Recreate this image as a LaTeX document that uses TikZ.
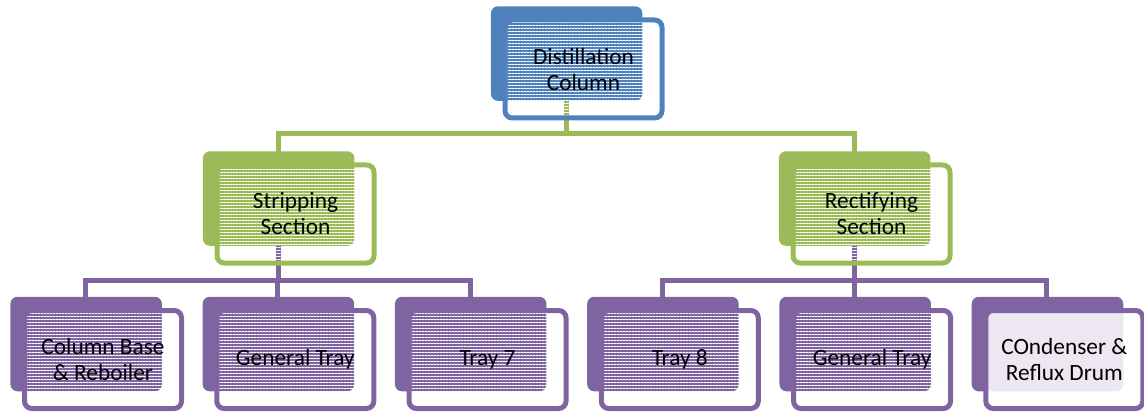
\documentclass[tikz,border=0pt]{standalone}
\usepackage{fontspec}
\setmainfont{Carlito}
\usetikzlibrary{positioning,backgrounds,shadows,patterns.meta}
\definecolor{SAblue}{RGB}{79,129,189}
\definecolor{SAgreen}{RGB}{155,187,89}
\definecolor{SApurple}{RGB}{128,100,162}
\tikzset{
    % two-layer card: filled back card (shadow) + outlined front card
    card/.style={
        rectangle, rounded corners=5.5pt, draw=#1, line width=3.75pt,
        minimum width=117.75pt, minimum height=73.5pt, inner sep=2pt,
        align=center, font=\fontsize{17.5pt}{19.5pt}\selectfont,
        general shadow={fill=#1, fill opacity=1, shadow xshift=-13.1pt,
                        shadow yshift=12pt, shadow scale=0.965}
    },
    % striped see-through front
    hatched/.style={pattern={Lines[distance=2.25pt,line width=0.75pt]},
                    pattern color=white},
    % colour variants
    topcard/.style={card=SAblue, hatched},
    seccard/.style={card=SAgreen, hatched},
    traycard/.style={card=SApurple, hatched},
    link/.style={draw=#1, line width=3.75pt},
}
\begin{document}
\begin{tikzpicture}[x=0.75pt,y=-0.75pt]
  \useasboundingbox (0,0) rectangle (1144,413);
  \node[topcard] (column) at (583.5,69) {Distillation\\Column};
  \node[seccard] (strip) at (295.5,214) {Stripping\\Section};
  \node[seccard] (rectif) at (871.5,214) {Rectifying\\Section};
  \node[traycard] (base) at (103,359.5) {Column Base\\\& Reboiler};
  \node[traycard,right=22.7pt of base] (gtrayl) {General Tray};
  \node[traycard,right=22.7pt of gtrayl] (tray7) {Tray 7};
  \node[traycard,right=22.7pt of tray7] (tray8) {Tray 8};
  \node[traycard,right=22.7pt of tray8] (gtrayr) {General Tray};
  \node[card=SApurple,fill=white,fill opacity=0.85,text opacity=1,
        right=22.7pt of gtrayr] (cond) {COndenser \&\\Reflux Drum};
  \begin{scope}[on background layer]
    \coordinate (gbar) at (0,134);
    \coordinate (pbar) at (0,280);
    % green level
    \draw[link=SAgreen] ([xshift=-13.1pt]column.center)
      -- ([xshift=-13.1pt]column.center |- gbar);
    \draw[link=SAgreen] ([xshift=-13.1pt]strip.center)
      |- ([xshift=-13.1pt]column.center |- gbar)
      -| ([xshift=-13.1pt]rectif.center);
    % purple level
    \draw[link=SApurple] ([xshift=-13.1pt]strip.center)
      -- ([xshift=-13.1pt]strip.center |- pbar);
    \draw[link=SApurple] ([xshift=-13.1pt]base.center)
      |- ([xshift=-13.1pt]strip.center |- pbar)
      -| ([xshift=-13.1pt]tray7.center);
    \draw[link=SApurple] ([xshift=-13.1pt]gtrayl.center)
      -- ([xshift=-13.1pt]gtrayl.center |- pbar);
    \draw[link=SApurple] ([xshift=-13.1pt]rectif.center)
      -- ([xshift=-13.1pt]rectif.center |- pbar);
    \draw[link=SApurple] ([xshift=-13.1pt]tray8.center)
      |- ([xshift=-13.1pt]rectif.center |- pbar)
      -| ([xshift=-13.1pt]cond.center);
    \draw[link=SApurple] ([xshift=-13.1pt]gtrayr.center)
      -- ([xshift=-13.1pt]gtrayr.center |- pbar);
  \end{scope}
\end{tikzpicture}
\end{document}
